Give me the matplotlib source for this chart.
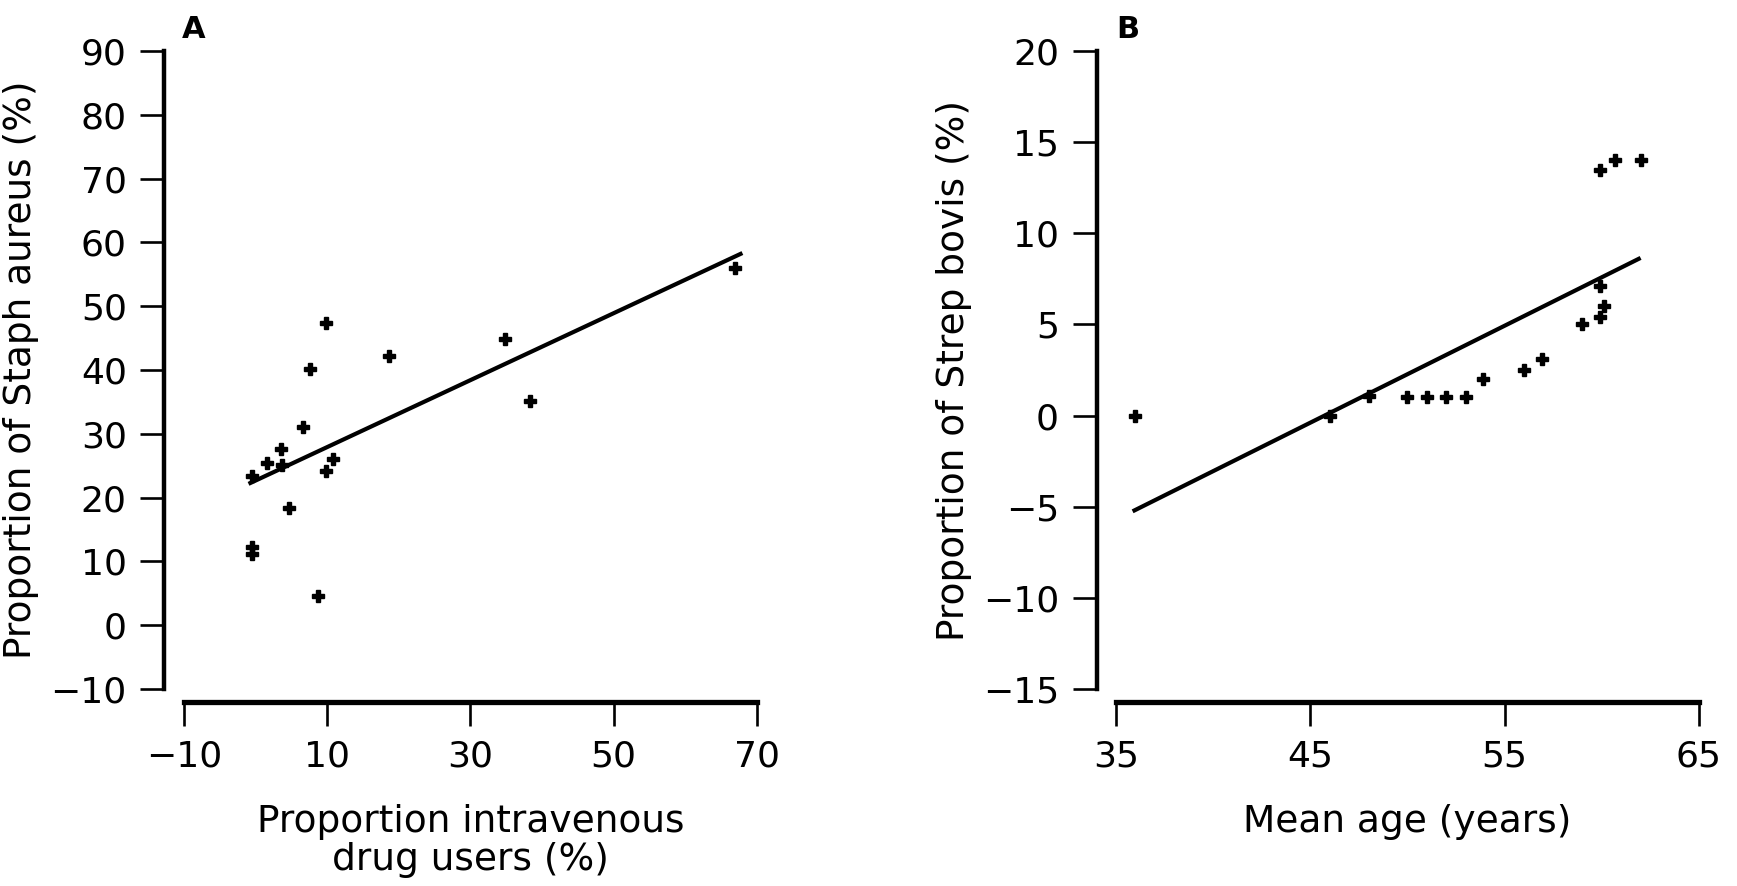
import matplotlib
matplotlib.use("Agg")
import matplotlib.pyplot as plt

# Panel A: Staph aureus vs intravenous drug users
ivdu_pct = [-0.5, 1.6, 3.5, 3.7, 6.7, 7.6, 9.8, 10.8, 9.8, 4.7, -0.5, -0.5, 8.7, 18.6, 34.9, 38.3, 67.0]
staph_pct = [23.4, 25.5, 27.6, 25.1, 31.0, 40.1, 47.3, 26.0, 24.1, 18.3, 12.3, 11.1, 4.6, 42.2, 44.9, 35.2, 56.0]
fit_a_x = [-0.7, 67.7]
fit_a_y = [22.3, 58.2]

# Panel B: Strep bovis vs mean age
mean_age = [36.0, 46.0, 48.0, 50.0, 51.0, 52.0, 53.0, 53.9, 56.0, 56.9, 59.0, 59.9, 60.1, 59.9, 59.9, 60.7, 62.0]
bovis_pct = [0.0, 0.0, 1.05, 1.0, 1.0, 1.0, 1.0, 2.0, 2.5, 3.1, 5.0, 5.4, 6.0, 7.1, 13.5, 14.0, 14.0]
fit_b_x = [35.95, 61.9]
fit_b_y = [-5.2, 8.6]

plt.rcParams['font.family'] = ['DejaVu Sans']
fig = plt.figure(figsize=(17.37, 8.86), dpi=100)

ax_a = fig.add_axes([0.1058, 0.2223, 0.330, 0.7201])
ax_b = fig.add_axes([0.6425, 0.2223, 0.3356, 0.7201])


def style(ax):
    for s in ['top', 'right']:
        ax.spines[s].set_visible(False)
    ax.spines['left'].set_position(('outward', 14))
    ax.spines['bottom'].set_position(('outward', 9.5))
    ax.spines['left'].set_linewidth(3.2)
    ax.spines['bottom'].set_linewidth(3.8)
    ax.tick_params(length=17, width=1.9, labelsize=26, pad=10, colors='black')
    ax.set_facecolor('none')


ax_a.plot(fit_a_x, fit_a_y, color='black', lw=3)
ax_a.plot(ivdu_pct, staph_pct, 'P', color='black', ms=8, clip_on=False)
ax_a.set_xlim(-10, 70)
ax_a.set_ylim(-10, 90)
ax_a.set_xticks([-10, 10, 30, 50, 70])
ax_a.set_yticks(range(-10, 91, 10))
ax_a.set_xticklabels(['\u221210', '10', '30', '50', '70'])
ax_a.set_yticklabels(['\u221210'] + [str(v) for v in range(0, 91, 10)])
style(ax_a)
ax_a.set_xlabel('Proportion intravenous\ndrug users (%)', fontsize=27, labelpad=22, linespacing=1.05)
ax_a.set_ylabel('Proportion of Staph aureus (%)', fontsize=27, labelpad=8)

ax_b.plot(fit_b_x, fit_b_y, color='black', lw=3)
ax_b.plot(mean_age, bovis_pct, 'P', color='black', ms=8, clip_on=False)
ax_b.set_xlim(35, 65)
ax_b.set_ylim(-15, 20)
ax_b.set_xticks([35, 45, 55, 65])
ax_b.set_yticks(range(-15, 21, 5))
ax_b.set_yticklabels(['\u221215', '\u221210', '\u22125'] + [str(v) for v in range(0, 21, 5)])
style(ax_b)
ax_b.set_xlabel('Mean age (years)', fontsize=27, labelpad=22)
ax_b.set_ylabel('Proportion of Strep bovis (%)', fontsize=27, labelpad=8)

fig.text(194 / 1737, 1 - 30 / 886, 'A', fontsize=22, fontweight='bold', ha='center', va='center')
fig.text(1128 / 1737, 1 - 30 / 886, 'B', fontsize=22, fontweight='bold', ha='center', va='center')

fig.savefig('out.png', dpi=100)
